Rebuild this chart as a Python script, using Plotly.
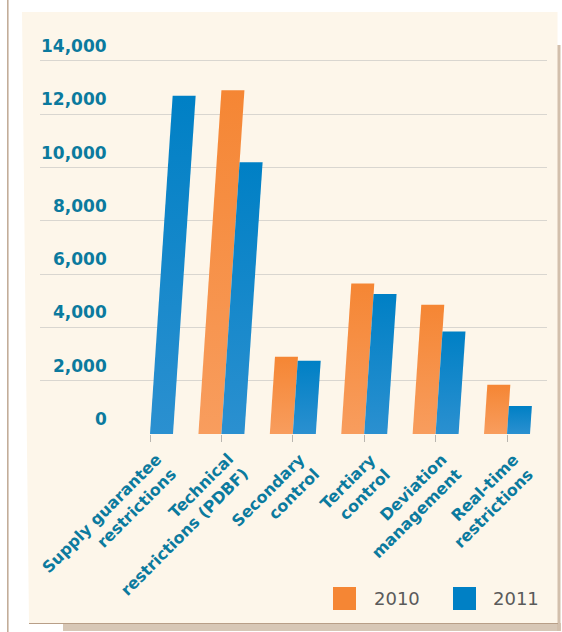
import plotly.graph_objects as go

# ---------------- data ----------------
categories = [
    "Supply guarantee<br>restrictions",
    "Technical<br>restrictions (PDBF)",
    "Secondary<br>control",
    "Tertiary<br>control",
    "Deviation<br>management",
    "Real-time<br>restrictions",
]
years = ["2010", "2011"]
values_2010 = [0, 12900, 2900, 5650, 4850, 1850]
values_2011 = [12700, 10200, 2750, 5250, 3850, 1050]
y_tick_values = [0, 2000, 4000, 6000, 8000, 10000, 12000, 14000]
y_tick_labels = ["0", "2,000", "4,000", "6,000", "8,000", "10,000", "12,000", "14,000"]

# ---------------- styling ----------------
W, H = 562, 632
PL, PR, PT, PB = 40, 547, 40, 434
TEAL = "#0b7a9e"
ORANGE_TOP, ORANGE_BOT = "#f58634", "#f89d5e"
BLUE_TOP, BLUE_BOT = "#0080c5", "#2b90d0"
BAR_W = 0.322
SLANT = 2.5e-5  # horizontal lean (x units per value unit) of the italic bars


def px(x):
    return (x - PL) / (PR - PL)


def py(y):
    return (PB - y) / (PB - PT)


fig = go.Figure()

series = [
    (years[0], values_2010, -BAR_W, ORANGE_BOT, ORANGE_TOP),
    (years[1], values_2011, 0.0, BLUE_BOT, BLUE_TOP),
]
for name, vals, off, cbot, ctop in series:
    for i, v in enumerate(vals):
        if v <= 0:
            continue
        x0 = i + off
        xs = [x0, x0 + BAR_W, x0 + BAR_W + SLANT * v, x0 + SLANT * v, x0]
        ys = [0, 0, v, v, 0]
        fig.add_trace(
            go.Scatter(
                x=xs,
                y=ys,
                mode="lines",
                fill="toself",
                line=dict(width=0, color=ctop),
                fillcolor=ctop,
                fillgradient=dict(
                    type="vertical",
                    colorscale=[[0, cbot], [1, ctop]],
                    start=0,
                    stop=v,
                ),
                name=name,
                showlegend=False,
                hoverinfo="skip",
            )
        )

shapes = []
# outer decoration: left rule, shadow, cream panel
shapes.append(dict(type="rect", xref="paper", yref="paper", layer="below",
                   x0=px(7), x1=px(8.6), y0=py(0), y1=py(632),
                   fillcolor="#c3ad99", line=dict(width=0)))
shapes.append(dict(type="rect", xref="paper", yref="paper", layer="below",
                   x0=px(63), x1=px(561), y0=py(623), y1=py(631),
                   fillcolor="#d7c7b6", line=dict(width=0)))
shapes.append(dict(type="rect", xref="paper", yref="paper", layer="below",
                   x0=px(557), x1=px(560.5), y0=py(45), y1=py(631),
                   fillcolor="#d2bfac", line=dict(width=0)))
panel_path = "M {} {} L {} {} L {} {} L {} {} Z".format(
    px(22), py(12), px(557.5), py(12), px(557.5), py(623), px(29), py(623))
shapes.append(dict(type="path", xref="paper", yref="paper", layer="below",
                   path=panel_path, fillcolor="#fdf6ea", line=dict(width=0)))
shapes.append(dict(type="line", xref="paper", yref="paper", layer="below",
                   x0=px(29), x1=px(558), y0=py(623.5), y1=py(623.5),
                   line=dict(color="#b89f88", width=1)))

# legend swatches
shapes.append(dict(type="rect", xref="paper", yref="paper",
                   x0=px(333), x1=px(356), y0=py(610), y1=py(587),
                   fillcolor=ORANGE_TOP, line=dict(width=0)))
shapes.append(dict(type="rect", xref="paper", yref="paper",
                   x0=px(453), x1=px(476), y0=py(610), y1=py(587),
                   fillcolor=BLUE_TOP, line=dict(width=0)))

annotations = []
# y tick labels, sitting above their gridlines
for v, lab in zip(y_tick_values, y_tick_labels):
    annotations.append(dict(
        x=px(109), xref="paper", y=v, yref="y", yshift=15,
        text=lab, showarrow=False, xanchor="right", yanchor="middle",
        font=dict(family="DejaVu Sans", size=17, color=TEAL, weight="bold"),
    ))
# category labels rotated -45
for i, lab in enumerate(categories):
    annotations.append(dict(
        x=i, xref="x", y=0, yref="y", xshift=33, yshift=-13,
        text=lab, showarrow=False, textangle=-45, align="right",
        xanchor="right", yanchor="top",
        font=dict(family="DejaVu Sans", size=16, color=TEAL, weight="bold"),
    ))
# legend texts
for xpos, lab in [(372, years[0]), (491, years[1])]:
    annotations.append(dict(
        x=px(xpos), xref="paper", y=py(598.5), yref="paper",
        text=lab, showarrow=False, xanchor="left", yanchor="middle",
        font=dict(family="DejaVu Sans", size=18, color="#5a5a5a"),
    ))

fig.update_layout(
    width=W, height=H,
    margin=dict(l=PL, r=W - PR, t=PT, b=H - PB, pad=0),
    paper_bgcolor="white",
    plot_bgcolor="rgba(0,0,0,0)",
    showlegend=False,
    shapes=shapes,
    annotations=annotations,
    xaxis=dict(
        range=[-1.5406, 5.560],
        tickvals=list(range(len(categories))),
        ticktext=[""] * len(categories),
        ticks="outside", ticklen=7, tickwidth=1, tickcolor="#b9b6b0",
        showgrid=False, zeroline=False, showline=False,
        fixedrange=True,
    ),
    yaxis=dict(
        range=[0, 14788],
        tickvals=y_tick_values,
        showticklabels=False,
        showgrid=True, gridcolor="#d9d6d0", gridwidth=1.3,
        zeroline=False, showline=False, ticks="",
        fixedrange=True,
    ),
)

fig.write_html("out.html")
